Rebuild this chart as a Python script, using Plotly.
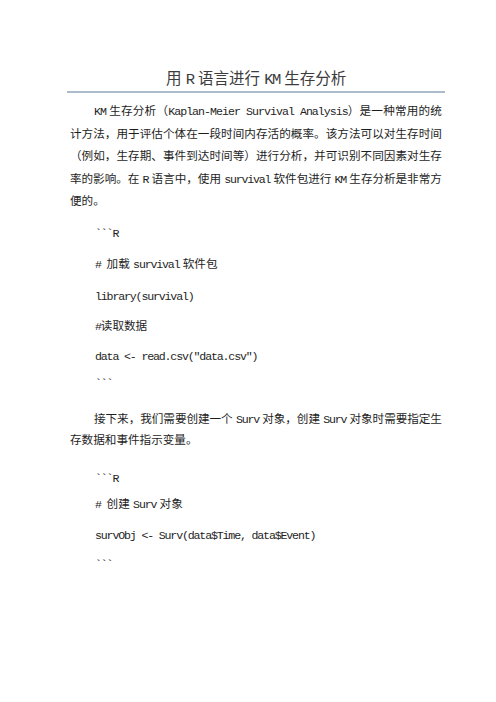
import re
import html
import plotly.graph_objects as go

# Page text (one entry per printed line)
title = '用R语言进行KM生存分析'

para1 = [
    'KM生存分析（Kaplan-Meier Survival Analysis）是一种常用的统',
    '计方法，用于评估个体在一段时间内存活的概率。该方法可以对生存时间',
    '（例如，生存期、事件到达时间等）进行分析，并可识别不同因素对生存',
    '率的影响。在R语言中，使用survival软件包进行KM生存分析是非常方',
    '便的。',
]

code1 = [
    '```R',
    '# 加载survival软件包',
    'library(survival)',
    '#读取数据',
    'data <- read.csv("data.csv")',
    '```',
]

para2 = [
    '接下来，我们需要创建一个Surv对象，创建Surv对象时需要指定生',
    '存数据和事件指示变量。',
]

code2 = [
    '```R',
    '# 创建Surv对象',
    'survObj <- Surv(data$Time, data$Event)',
    '```',
]

# layout (pixels from top-left of the page)
W, H = 496, 702
FONT = 'Liberation Mono, Noto Sans CJK SC'
SIZE = 11.6
LEFT, INDENT, RIGHT = 60, 84, 432
TEXT_COLOR = '#1e1e1e'
GAP = 0.28  # word-style spacing between latin and CJK, in em

para1_y = [103, 125.5, 148, 170.5, 193]
code1_y = [225, 256, 288, 318, 348, 375]
para2_y = [411, 432]
code2_y = [470, 496, 527, 556]


def is_wide(c):
    return ord(c) > 255


def is_cjk_punct(c):
    o = ord(c)
    return 0x3000 <= o <= 0x303f or 0xff00 <= o <= 0xffef


def needs_gap(a, b):
    # extra space at a latin/CJK boundary (not next to punctuation)
    if is_wide(a) == is_wide(b):
        return False
    latin, wide = (a, b) if is_wide(b) else (b, a)
    return latin.isalnum() and not is_cjk_punct(wide)


def natural_width(s, size):
    w = sum(size if is_wide(c) else size * 0.5 for c in s)
    w += sum(GAP * size for a, b in zip(s, s[1:]) if needs_gap(a, b))
    return w


def styled(line, size, extra=0.0):
    # mono latin squeezed to half width, CJK full width
    parts = []
    for i, c in enumerate(line):
        ls = (0 if is_wide(c) else -0.1 * size) + extra
        if i + 1 < len(line) and needs_gap(c, line[i + 1]):
            ls += GAP * size
        parts.append((round(ls, 2), html.escape(c, quote=False)))
    # merge neighbours that share the same spacing
    merged = []
    for ls, ch in parts:
        if merged and merged[-1][0] == ls:
            merged[-1][1] += ch
        else:
            merged.append([ls, ch])
    return ''.join('<span style="letter-spacing:%.2fpx">%s</span>' % (ls, t)
                   for ls, t in merged)


fig = go.Figure()
annotations = []


def add_line(text, x, y, size=SIZE, justify_to=None, color=TEXT_COLOR, anchor='left'):
    extra = 0.0
    if justify_to is not None and len(text) > 1:
        extra = (justify_to - x - natural_width(text, size)) / (len(text) - 1)
    annotations.append(dict(
        x=x, y=y, xref='x', yref='y', showarrow=False,
        xanchor=anchor, yanchor='middle',
        text=styled(text, size, extra),
        font=dict(family=FONT, size=size, color=color),
    ))


# title
add_line(title, W / 2, 71, size=15.5, color='#3c3c3c', anchor='center')


def add_paragraph(lines, ys):
    for i, (line, y) in enumerate(zip(lines, ys)):
        x = INDENT if i == 0 else LEFT
        last = i == len(lines) - 1
        add_line(line, x, y, justify_to=None if last else RIGHT)


def add_code(lines, ys):
    for line, y in zip(lines, ys):
        add_line(line, INDENT + 1, y)


add_paragraph(para1, para1_y)
add_code(code1, code1_y)
add_paragraph(para2, para2_y)
add_code(code2, code2_y)

fig.update_layout(
    width=W, height=H,
    margin=dict(l=0, r=0, t=0, b=0),
    paper_bgcolor='white', plot_bgcolor='white',
    xaxis=dict(range=[0, W], visible=False, fixedrange=True),
    yaxis=dict(range=[H, 0], visible=False, fixedrange=True),
    annotations=annotations,
    shapes=[dict(type='line', xref='x', yref='y', x0=59, x1=437, y0=84, y1=84,
                 line=dict(color='#5b7a96', width=1.2))],
    showlegend=False,
)

fig.write_html("out.html")
